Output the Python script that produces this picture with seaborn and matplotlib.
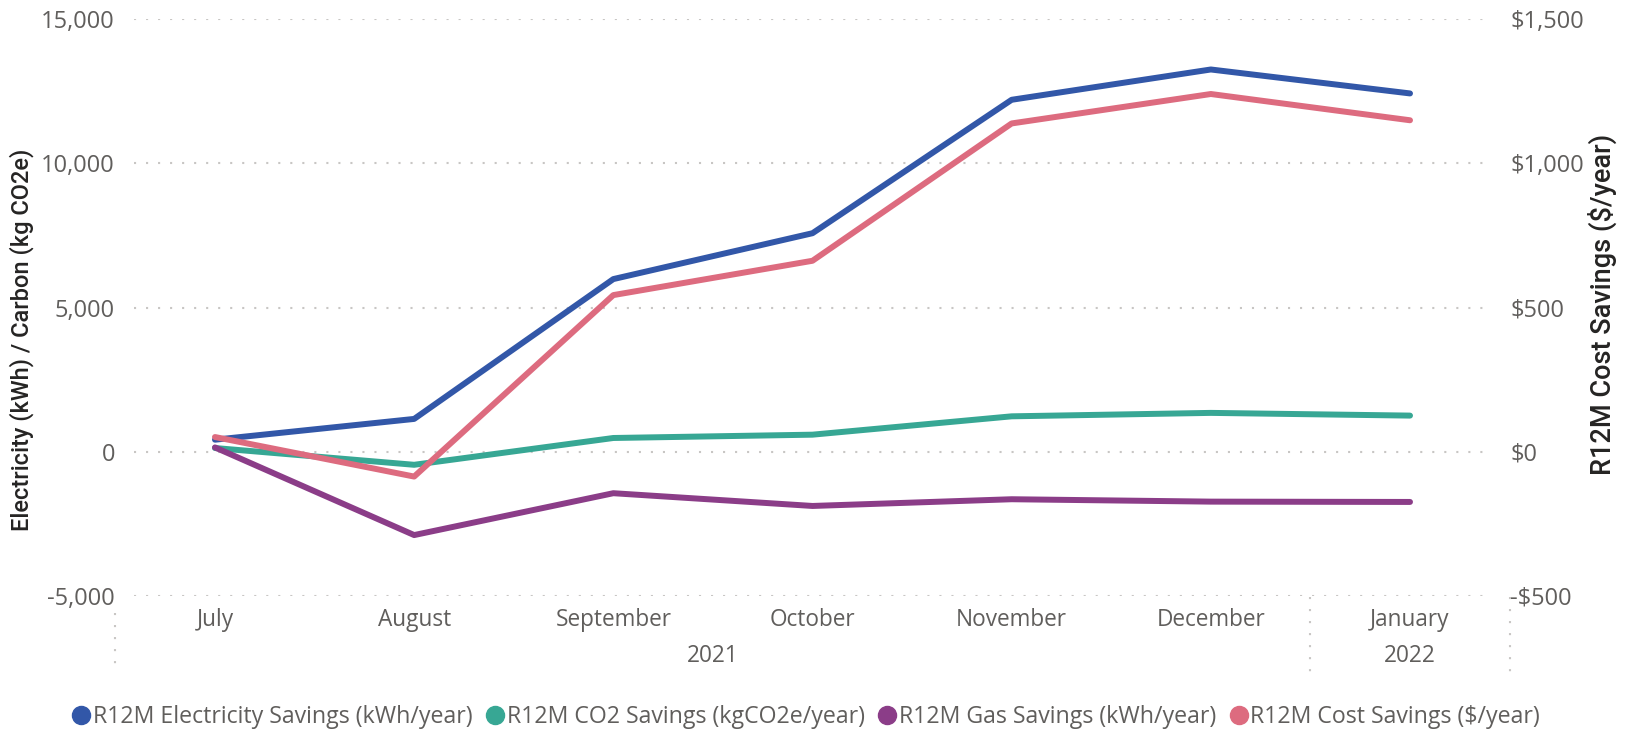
import matplotlib
matplotlib.use("Agg")
import matplotlib.pyplot as plt
from matplotlib.lines import Line2D
from matplotlib.ticker import FuncFormatter
import seaborn as sns
import pandas as pd

# ---------------- data ----------------
months = ["July", "August", "September", "October", "November", "December", "January"]
years = ["2021", "2022"]
year_span = [(0, 5), (6, 6)]           # month index range of each year group
electricity = [418, 1138, 5985, 7575, 12200, 13250, 12420]
co2 = [129, -452, 477, 592, 1228, 1347, 1253]
gas = [150, -2888, -1437, -1879, -1646, -1729, -1740]
cost = [51, -86, 543, 662, 1138, 1240, 1149]
series_names = [
    "R12M Electricity Savings (kWh/year)",
    "R12M CO2 Savings (kgCO2e/year)",
    "R12M Gas Savings (kWh/year)",
    "R12M Cost Savings ($/year)",
]
colors = ["#3257A8", "#37A794", "#8B3D88", "#DD6B7F"]
left_ticks = [-5000, 0, 5000, 10000, 15000]
right_ticks = [-500, 0, 500, 1000, 1500]
left_title = "Electricity (kWh) / Carbon (kg CO2e)"
right_title = "R12M Cost Savings ($/year)"

# ---------------- style ----------------
sns.set_style("white")
plt.rcParams["font.family"] = ["Open Sans", "DejaVu Sans"]
TICK_C = "#605E5C"
TITLE_C = "#252423"
GRID_C = "#C8C6C4"
TITLE_FONT = ["Roboto", "Liberation Sans", "DejaVu Sans"]

W, H = 1635, 732
fig = plt.figure(figsize=(W / 100, H / 100), dpi=100)
ax_l, ax_r, ax_t, ax_b = 134, 1490, 19, 596
ax = fig.add_axes([ax_l / W, (H - ax_b) / H, (ax_r - ax_l) / W, (ax_b - ax_t) / H])
ax2 = ax.twinx()

df = pd.DataFrame({
    "idx": range(len(months)),
    "month": months,
    "elec": electricity,
    "co2": co2,
    "gas": gas,
    "cost": cost,
})

lw = 4.3
for col, c in zip(["elec", "co2", "gas"], colors[:3]):
    sns.lineplot(data=df, x="idx", y=col, ax=ax, color=c, linewidth=lw,
                 solid_capstyle="round", solid_joinstyle="round", legend=False)
sns.lineplot(data=df, x="idx", y="cost", ax=ax2, color=colors[3], linewidth=lw,
             solid_capstyle="round", solid_joinstyle="round", legend=False)

# ---------------- axes ----------------
ax.set_xlim(-0.4066, 6.4016)
ax.set_ylim(left_ticks[0], left_ticks[-1])
ax2.set_ylim(right_ticks[0], right_ticks[-1])
ax.set_yticks(left_ticks)
ax2.set_yticks(right_ticks)
ax.yaxis.set_major_formatter(FuncFormatter(lambda v, p: f"{v:,.0f}"))
ax2.yaxis.set_major_formatter(
    FuncFormatter(lambda v, p: (f"-${abs(v):,.0f}" if v < 0 else f"${v:,.0f}")))
ax.set_xticks(df["idx"], months)

ax.tick_params(axis="y", length=0, pad=13.7, labelsize=17, labelcolor=TICK_C)
ax2.tick_params(axis="y", length=0, pad=14.4, labelsize=17, labelcolor=TICK_C)
ax.tick_params(axis="x", length=0, pad=8.6, labelsize=16.3, labelcolor=TICK_C)

for a in (ax, ax2):
    for s in a.spines.values():
        s.set_visible(False)
    a.set_xlabel("")

ax.yaxis.grid(True, color=GRID_C, linewidth=1.5, linestyle=(0, (1, 4.77)))
ax.xaxis.grid(False)
ax.set_axisbelow(True)

# axis titles
ax.set_ylabel(left_title, fontsize=17, family=TITLE_FONT, fontweight="medium",
              color=TITLE_C)
ax.yaxis.label.set_va("center")
ax.yaxis.set_label_coords((22 - ax_l) / (ax_r - ax_l), (ax_b - 340) / (ax_b - ax_t))
ax2.set_ylabel(right_title, fontsize=19.5, family=TITLE_FONT, fontweight="medium",
               color=TITLE_C, rotation=90)
ax2.yaxis.label.set_va("center")
ax2.yaxis.set_label_coords((1602 - ax_l) / (ax_r - ax_l), (ax_b - 304) / (ax_b - ax_t))

# year group labels and separators
xt = ax.get_xaxis_transform()
ph = ax_b - ax_t
for yr, (i0, i1) in zip(years, year_span):
    ax.text((i0 + i1) / 2, (ax_b - 662) / ph, yr, transform=xt, ha="center",
            va="baseline", fontsize=16.3, color=TICK_C)
for xs, top in [(-0.5, 613), (5.5, 597), (6.5, 597)]:
    ax.plot([xs, xs], [(ax_b - top) / ph, (ax_b - 673) / ph], transform=xt,
            clip_on=False, color=GRID_C, linewidth=1.5, linestyle=(0, (1, 4.77)))

# legend
handles = [Line2D([], [], marker="o", linestyle="", markersize=13, color=c) for c in colors]
fig.legend(handles, series_names, loc="center", bbox_to_anchor=(806 / W, 15 / H),
           ncol=4, frameon=False, fontsize=16.7, handlelength=0.8, handletextpad=0.1,
           columnspacing=0.57, labelcolor=TICK_C)

fig.savefig("out.png", dpi=100)
